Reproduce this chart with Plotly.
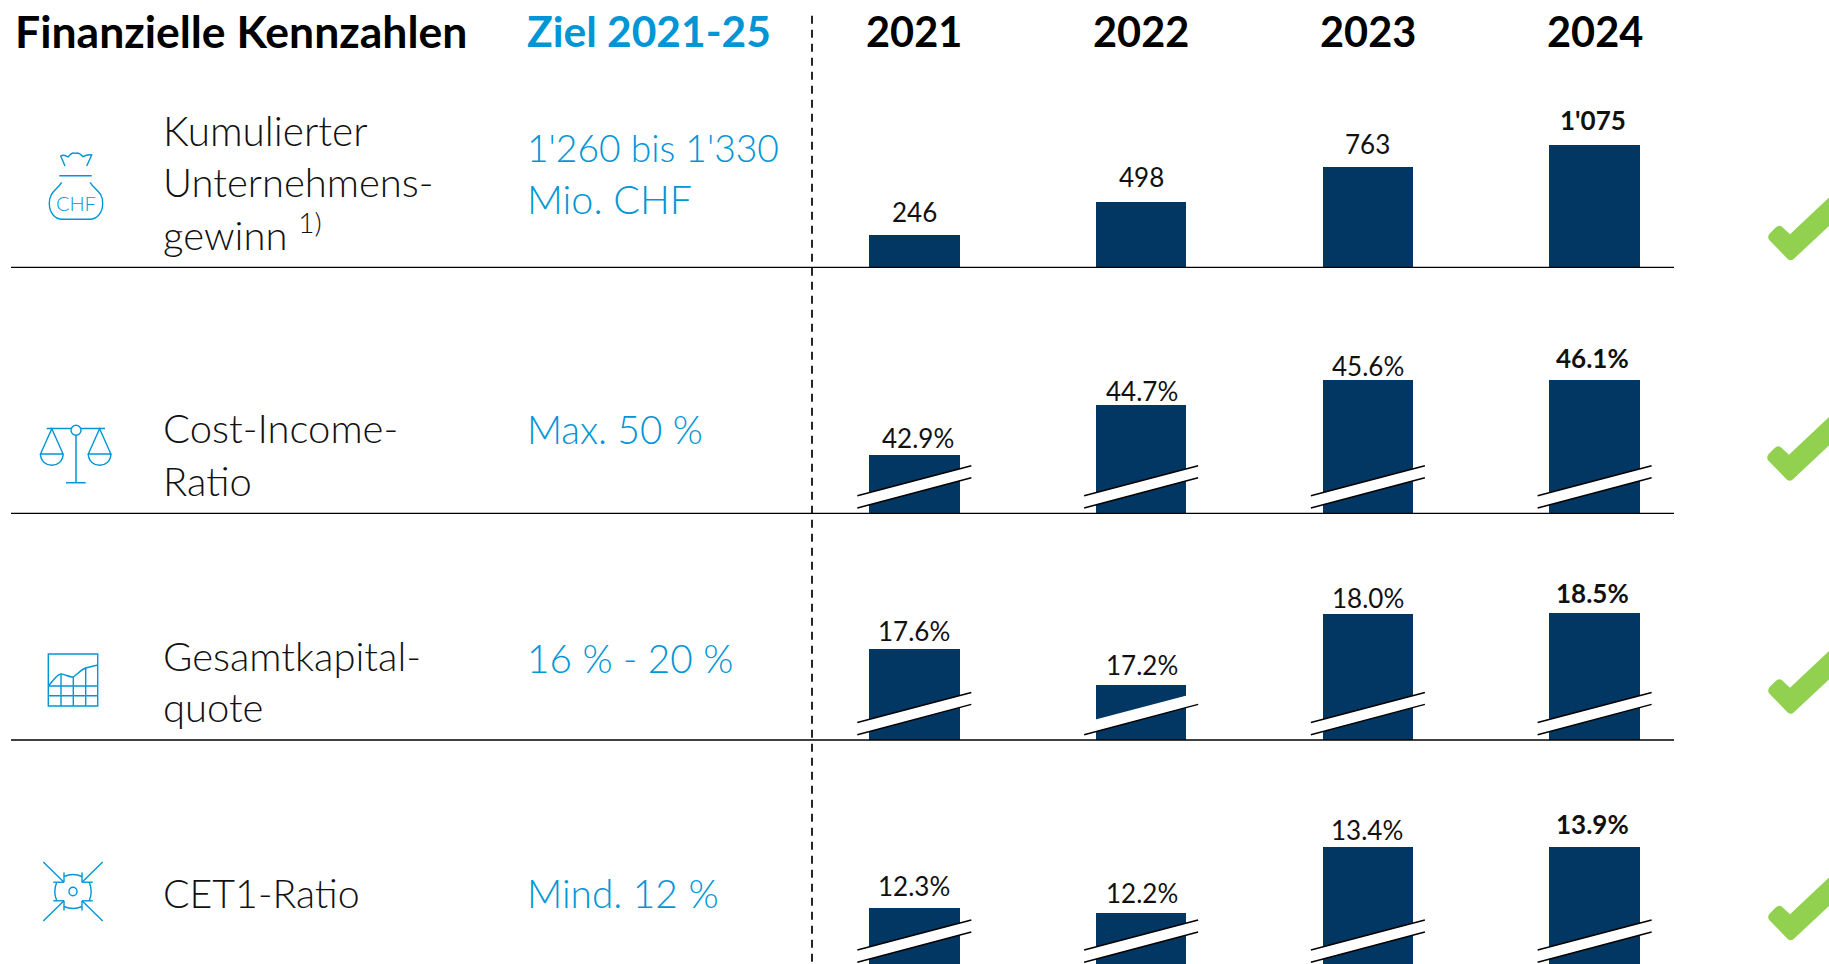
import plotly.graph_objects as go

W, H = 1829, 964
FONT = "Lato"
NAVY = "#023764"
BLUE = "#0096D6"
GREEN = "#92D050"

# ---- data -------------------------------------------------------------
years = [2021, 2022, 2023, 2024]
header_title = "Finanzielle Kennzahlen"
header_target = "Ziel 2021-25"

# printed labels
profit_labels = ["246", "498", "763", "1'075"]
cost_labels = ["42.9%", "44.7%", "45.6%", "46.1%"]
capital_labels = ["17.6%", "17.2%", "18.0%", "18.5%"]
cet1_labels = ["12.3%", "12.2%", "13.4%", "13.9%"]

# bar heights (the source draws 2024 shorter than its label)
profit_bars = [246, 498, 763, 934]
cost_bars = [42.9, 44.7, 45.6, 45.6]
capital_bars = [17.6, 17.2, 18.0, 18.01]
cet1_bars = [12.3, 12.2, 13.4, 13.4]

row_names = [["Kumulierter", "Unternehmens-", "gewinn <sup>1)</sup>"],
             ["Cost-Income-", "Ratio"],
             ["Gesamtkapital-", "quote"],
             ["CET1-Ratio"]]
row_targets = [["1'260 bis 1'330", "Mio. CHF"], ["Max. 50 %"], ["16 % - 20 %"], ["Mind. 12 %"]]

# ---- layout tables (pixels) -------------------------------------------
# row: (domain top, domain bottom, axis low, axis high)
row_axes = [(60, 267.3, 0, 1582.0),
            (280, 513.3, 40.814, 49.2),
            (530, 740, 16.581, 18.941),
            (760, 964, 11.273, 14.982)]
name_y = [[131, 182, 231.5], [428, 480.5], [656, 706.5], [892.5]]
name_size = [[40.5, 40, 40], [40, 40], [40, 40], [39.3]]
target_y = [[147, 198.5], [429], [658], [892.5]]
target_size = [[37.2, 39.5], [38.6], [38.7], [38.8]]
label_gap = [[23.5, 25, 23.5, 24.5], [17.5, 14.5, 14.5, 22.5], [18, 19.5, 15.5, 19.5], [21.5, 20.5, 17.5, 23.5]]
label_dx = [[0, 0, 0, -2], [4, 1, 0, -2], [0, 1, 0, -2], [0, 1, -1, -2]]
break_base = [None, 513.3, 740, 967.6]
check_pos = [(1790.7, 260), (1789.7, 480.5), (1790.7, 713.5), (1790.7, 940)]
rule_y = [267.4, 513.4, 740]


def fx(x):
    return x / W


def fy(y):
    return 1 - y / H


def pt(x, y):
    return f"{fx(x):.5f},{fy(y):.5f}"


def path(*cmds):
    out = []
    for c in cmds:
        out.append(c[0] + " ".join(pt(*p) for p in c[1:]))
    return " ".join(out)


shapes = []
annotations = []


def line(x0, y0, x1, y1, color="black", width=1.5, dash=None, layer="above"):
    shapes.append(dict(type="line", xref="paper", yref="paper", x0=fx(x0), y0=fy(y0), x1=fx(x1), y1=fy(y1),
                       line=dict(color=color, width=width, dash=dash), layer=layer))


def icon(*cmds, fill="rgba(0,0,0,0)", color=BLUE, width=1.4):
    shapes.append(dict(type="path", xref="paper", yref="paper", path=path(*cmds), fillcolor=fill,
                       line=dict(color=color, width=width)))


def text(x, y, s, size, color="#111111", weight=400, anchor="left"):
    annotations.append(dict(x=fx(x), y=fy(y), xref="paper", yref="paper", text=s, showarrow=False,
                            xanchor=anchor, yanchor="middle", align=anchor,
                            font=dict(family=FONT, size=size, color=color, weight=weight)))


fig = go.Figure()

# ---- bars --------------------------------------------------------------
series = [profit_bars, cost_bars, capital_bars, cet1_bars]
labels = [profit_labels, cost_labels, capital_labels, cet1_labels]
layout_axes = {}
for i, (vals, labs) in enumerate(zip(series, labels)):
    yname = "y" if i == 0 else f"y{i + 1}"
    fig.add_trace(go.Bar(x=years, y=vals, width=0.4, marker=dict(color=NAVY, line=dict(width=0)),
                         yaxis=yname, xaxis="x", showlegend=False, hoverinfo="x+y"))
    top, bottom, lo, hi = row_axes[i]
    layout_axes["yaxis" if i == 0 else f"yaxis{i + 1}"] = dict(
        domain=[fy(bottom), fy(top)], range=[lo, hi], visible=False, anchor="x", fixedrange=True)
    for j, (yr, v, lab) in enumerate(zip(years, vals, labs)):
        annotations.append(dict(x=yr, y=v, xref="x", yref=yname, text=f"<b>{lab}</b>" if j == 3 else lab,
                                showarrow=False, xanchor="center", yanchor="middle",
                                yshift=label_gap[i][j], xshift=label_dx[i][j],
                                font=dict(family=FONT, size=26, color="#111111", weight=400)))

# ---- axis breaks --------------------------------------------------------
X0 = 2016.968
PX = 226.77
for i, base in enumerate(break_base):
    if base is None:
        continue
    for j, yr in enumerate(years):
        cx = (yr - X0) * PX
        xl, xr = cx - 57, cx + 57
        shapes.append(dict(type="path", xref="paper", yref="paper",
                           path=path(("M", (xl, base - 17.6)), ("L", (xr, base - 47.6)),
                                     ("L", (xr, base - 35.6)), ("L", (xl, base - 5.3))) + " Z",
                           fillcolor="white", line=dict(width=0)))
        if not (i == 2 and j == 1):
            line(xl, base - 17.6, xr, base - 47.6)
        line(xl, base - 5.3, xr, base - 35.6)

# ---- rules --------------------------------------------------------------
for y in rule_y:
    line(11, y, 1674, y, width=1.4)
line(812, 15.7, 812, H, width=1.7, dash="8px,6px")

# ---- texts --------------------------------------------------------------
text(12.5, 31, header_title, 44.5, color="#000000", weight=700)
text(524.5, 31, header_target, 42.5, color=BLUE, weight=700)
for yr in years:
    annotations.append(dict(x=yr, y=fy(31), xref="x", yref="paper", text=str(yr), showarrow=False,
                            xanchor="center", yanchor="middle",
                            font=dict(family=FONT, size=41.5, color="#000000", weight=700)))
for lines, ys, sizes in zip(row_names, name_y, name_size):
    for s, y, z in zip(lines, ys, sizes):
        text(161, y, s, z, color="#111111", weight=300)
for lines, ys, sizes in zip(row_targets, target_y, target_size):
    for s, y, z in zip(lines, ys, sizes):
        text(524.5, y, s, z, color=BLUE, weight=300)

# ---- check marks --------------------------------------------------------
for bx, by in check_pos:
    def c(dx, dy):
        return (bx + dx, by + dy)
    shapes.append(dict(type="path", xref="paper", yref="paper", fillcolor=GREEN, line=dict(width=0),
                       path=path(("M", c(-3, -1)), ("Q", c(0, 1.5), c(3, -1)), ("L", c(60, -54.3)),
                                 ("L", c(60, -83)), ("L", c(-0.7, -25.7)), ("L", c(-8.5, -33)),
                                 ("Q", c(-11.7, -35.5), c(-15, -32.5)), ("L", c(-21, -26.5)),
                                 ("Q", c(-24, -22.7), c(-21, -19.5))) + " Z"))

# ---- icons --------------------------------------------------------------
# money bag
icon(("M", (65, 166)), ("L", (60.7, 156)), ("Q", (64, 154), (68, 157)), ("Q", (72, 152), (75, 153.3)),
     ("Q", (79, 152), (83, 156.7)), ("Q", (88, 154), (91.7, 155)), ("L", (86.7, 166)))
line(59.3, 175.7, 91.7, 175.7, color=BLUE, width=1.6)
icon(("M", (61.7, 182.3)), ("C", (57, 190), (49.3, 192), (49.3, 203)), ("C", (49.3, 214), (56, 219.3), (62, 219.3)),
     ("L", (90, 219.3)), ("C", (96, 219.3), (102.7, 214), (102.7, 203)), ("C", (102.7, 192), (95, 190), (90, 182.3)))
text(75.5, 202.7, "CHF", 20, color=BLUE, weight=300, anchor="center")

# scales
line(46.7, 428.4, 105, 428.4, color=BLUE)
line(76, 435, 76, 482.7, color=BLUE)
line(66, 482.7, 85.7, 482.7, color=BLUE)
shapes.append(dict(type="circle", xref="paper", yref="paper", x0=fx(71), x1=fx(81), y0=fy(425.2), y1=fy(435.2),
                   fillcolor="white", line=dict(color=BLUE, width=1.4)))
for c0 in (51.8, 99.6):
    icon(("M", (c0 - 11.3, 454)), ("L", (c0, 428.8)), ("L", (c0 + 11.3, 454)), ("Z",))
    icon(("M", (c0 - 11.3, 454)), ("C", (c0 - 11, 469), (c0 + 11, 469), (c0 + 11.3, 454)))

# capital chart
icon(("M", (48.3, 654)), ("L", (97.7, 654)), ("L", (97.7, 706)), ("L", (48.3, 706)), ("Z",))
icon(("M", (48.3, 686)), ("C", (54, 680), (57, 674), (61, 674)), ("C", (65, 674), (69, 677.5), (73.3, 677)),
     ("C", (77, 675), (80, 670), (85.7, 668)), ("L", (97.7, 665)))
for x, y in ((61, 674), (73.3, 677), (85.7, 668)):
    line(x, y, x, 706, color=BLUE, width=1.4)
line(48.3, 686, 97.7, 686, color=BLUE, width=1.4)
line(48.3, 695.7, 97.7, 695.7, color=BLUE, width=1.4)

# CET1 target
cx, cy = 73, 891.5
shapes.append(dict(type="circle", xref="paper", yref="paper", x0=fx(cx - 4), x1=fx(cx + 4), y0=fy(cy - 4.3), y1=fy(cy + 4.3),
                   line=dict(color=BLUE, width=1.4)))
for sx, sy in ((-1, -1), (1, -1), (-1, 1), (1, 1)):
    line(cx + sx * 29.7, cy + sy * 29.5, cx + sx * 9, cy + sy * 9.3, color=BLUE, width=1.4)
    line(cx + sx * 9, cy + sy * 9.3, cx + sx * 9, cy + sy * 19, color=BLUE, width=1.4)
    line(cx + sx * 9, cy + sy * 9.3, cx + sx * 19.7, cy + sy * 9.3, color=BLUE, width=1.4)
icon(("M", (cx - 9, cy - 15)), ("Q", (cx, cy - 19), (cx + 9, cy - 15)))
icon(("M", (cx - 9, cy + 15)), ("Q", (cx, cy + 19), (cx + 9, cy + 15)))
icon(("M", (cx - 16.3, cy - 9.3)), ("Q", (cx - 20, cy), (cx - 16.3, cy + 9.3)))
icon(("M", (cx + 16.3, cy - 9.3)), ("Q", (cx + 20, cy), (cx + 16.3, cy + 9.3)))

fig.update_layout(
    width=W, height=H, margin=dict(l=0, r=0, t=0, b=0, pad=0), autosize=False,
    paper_bgcolor="white", plot_bgcolor="white", showlegend=False, bargap=0,
    xaxis=dict(range=[X0, X0 + W / PX], visible=False, domain=[0, 1], fixedrange=True, anchor="y"),
    shapes=shapes, annotations=annotations,
    **layout_axes,
)
fig.write_html("out.html", config={"displayModeBar": False},
               post_script="document.body.style.margin='0';document.documentElement.style.overflow='hidden';")
